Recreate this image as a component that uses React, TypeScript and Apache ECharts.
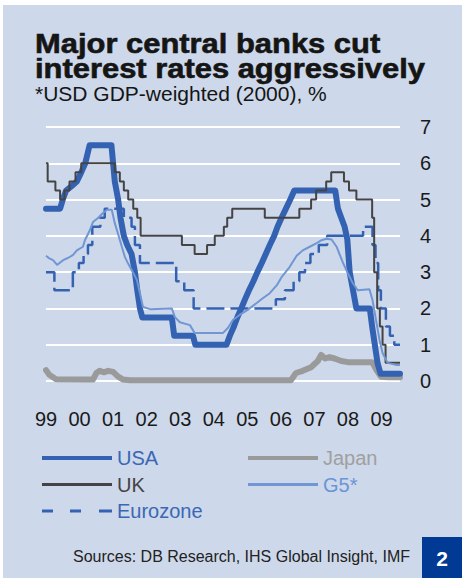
import { useEffect, useRef } from 'react';
import * as echarts from 'echarts';

// [decimal year, % rate]
const usaRate: [number, number][] = [
  [1999.0, 4.75], [1999.42, 4.75], [1999.5, 5.0], [1999.6, 5.25], [1999.8, 5.4], [1999.92, 5.5], [2000.05, 5.75],
  [2000.17, 6.0], [2000.3, 6.5], [2000.95, 6.5], [2001.0, 6.0], [2001.05, 5.5], [2001.15, 5.0], [2001.22, 4.5],
  [2001.32, 4.0], [2001.42, 3.75], [2001.55, 3.5], [2001.65, 3.0], [2001.72, 2.5], [2001.8, 2.0], [2001.87, 1.75],
  [2002.75, 1.75], [2002.82, 1.25], [2003.38, 1.25], [2003.45, 1.0], [2004.38, 1.0], [2004.48, 1.25], [2004.6, 1.5],
  [2004.7, 1.75], [2004.82, 2.0], [2004.93, 2.25], [2005.05, 2.5], [2005.18, 2.75], [2005.3, 3.0], [2005.43, 3.25],
  [2005.55, 3.5], [2005.67, 3.75], [2005.8, 4.0], [2005.9, 4.25], [2006.02, 4.5], [2006.15, 4.75], [2006.28, 5.0],
  [2006.4, 5.25], [2007.62, 5.25], [2007.7, 4.75], [2007.8, 4.5], [2007.9, 4.25], [2007.98, 3.9], [2008.05, 3.0],
  [2008.15, 2.5], [2008.25, 2.0], [2008.65, 2.0], [2008.72, 1.5], [2008.8, 1.0], [2008.88, 0.5], [2008.97, 0.2],
  [2009.55, 0.2],
];

const ukRate: [number, number][] = [
  [1999.0, 6.0], [1999.05, 5.5], [1999.28, 5.25], [1999.42, 5.0], [1999.55, 5.25], [1999.7, 5.5], [1999.88, 5.75],
  [2000.05, 6.0], [2001.05, 5.75], [2001.2, 5.5], [2001.32, 5.25], [2001.45, 5.0], [2001.6, 4.75], [2001.72, 4.5],
  [2001.82, 4.0], [2003.05, 3.75], [2003.43, 3.5], [2003.8, 3.75], [2004.03, 4.0], [2004.3, 4.25], [2004.4, 4.5],
  [2004.55, 4.75], [2005.52, 4.5], [2006.55, 4.75], [2006.9, 5.0], [2007.05, 5.25], [2007.35, 5.5], [2007.5, 5.75],
  [2007.88, 5.5], [2008.03, 5.25], [2008.25, 5.0], [2008.72, 4.5], [2008.78, 3.0], [2008.87, 2.0], [2008.95, 1.5],
  [2009.03, 1.0], [2009.12, 0.5], [2009.55, 0.5],
];

const euroRate: [number, number][] = [
  [1999.0, 3.0], [1999.25, 2.5], [1999.8, 3.0], [1999.98, 3.25], [2000.12, 3.5], [2000.25, 3.75], [2000.38, 4.25],
  [2000.62, 4.5], [2000.75, 4.75], [2001.32, 4.5], [2001.55, 4.25], [2001.65, 3.75], [2001.8, 3.25], [2002.88, 2.75],
  [2003.12, 2.5], [2003.4, 2.0], [2005.85, 2.25], [2006.12, 2.5], [2006.38, 2.75], [2006.55, 3.0], [2006.72, 3.25],
  [2006.88, 3.5], [2007.13, 3.75], [2007.38, 4.0], [2008.45, 4.25], [2008.73, 3.75], [2008.82, 3.25], [2008.9, 2.5],
  [2008.98, 2.0], [2009.13, 1.5], [2009.25, 1.25], [2009.38, 1.0], [2009.55, 1.0],
];

const japanRate: [number, number][] = [
  [1999.0, 0.3], [1999.1, 0.17], [1999.3, 0.05], [2000.4, 0.04], [2000.5, 0.22], [2000.6, 0.28], [2000.72, 0.24],
  [2000.85, 0.28], [2001.0, 0.25], [2001.15, 0.12], [2001.3, 0.04], [2001.5, 0.02], [2006.3, 0.02], [2006.45, 0.22],
  [2006.65, 0.28], [2006.9, 0.38], [2007.1, 0.55], [2007.2, 0.72], [2007.32, 0.62], [2007.45, 0.66], [2007.6, 0.62],
  [2007.8, 0.55], [2008.0, 0.52], [2008.4, 0.52], [2008.72, 0.52], [2008.85, 0.3], [2008.98, 0.12], [2009.2, 0.1],
  [2009.55, 0.1],
];

const g5Rate: [number, number][] = [
  [1999.0, 3.45], [1999.1, 3.38], [1999.21, 3.33], [1999.33, 3.2], [1999.51, 3.33], [1999.65, 3.39], [1999.8, 3.47],
  [1999.92, 3.6], [2000.1, 3.7], [2000.16, 3.88], [2000.31, 4.16], [2000.4, 4.38], [2000.55, 4.49], [2000.7, 4.63],
  [2000.82, 4.72], [2000.96, 4.72], [2001.05, 4.35], [2001.14, 4.08], [2001.26, 3.7], [2001.35, 3.42], [2001.44, 3.25],
  [2001.59, 3.0], [2001.71, 2.78], [2001.8, 2.42], [2001.89, 2.04], [2002.1, 1.98], [2002.75, 2.0], [2002.84, 1.76],
  [2002.99, 1.62], [2003.29, 1.54], [2003.43, 1.32], [2004.27, 1.32], [2004.42, 1.46], [2004.57, 1.68], [2004.77, 1.82],
  [2005.01, 1.96], [2005.28, 2.15], [2005.46, 2.28], [2005.67, 2.42], [2005.88, 2.64], [2006.02, 2.86], [2006.26, 3.14],
  [2006.47, 3.45], [2006.65, 3.6], [2006.86, 3.7], [2007.07, 3.8], [2007.21, 3.88], [2007.36, 3.92], [2007.51, 3.9],
  [2007.66, 3.7], [2007.84, 3.28], [2007.99, 2.98], [2008.14, 2.7], [2008.29, 2.5], [2008.64, 2.53], [2008.73, 2.23],
  [2008.85, 1.6], [2008.94, 1.13], [2009.03, 0.77], [2009.18, 0.5], [2009.45, 0.44], [2009.55, 0.44],
];

const TITLE_LINE_1 = 'Major central banks cut';
const TITLE_LINE_2 = 'interest rates aggressively';
const SUBTITLE = '*USD GDP-weighted (2000), %';
const SOURCE = 'Sources: DB Research, IHS Global Insight, IMF';
const CHART_NO = '2';

const BG = '#cdd8ea';
const USA_BLUE = '#3462b2';
const G5_BLUE = '#7096d4';
const UK_GREY = '#444444';
const JAPAN_GREY = '#9a9a9a';
const TITLE_INK = '#151515';
const FONT = '"Liberation Sans", Arial, sans-serif';

const ICON_THICK = 'path://M0,0h70v4h-70z';
const ICON_THIN = 'path://M0,0h70v3h-70z';
const ICON_DASH = 'path://M0,0h11v3h-11z M28,0h11v3h-11z M57,0h13v3h-13z';

export default function App() {
  const ref = useRef<HTMLDivElement>(null);
  useEffect(() => {
    const chart = echarts.init(ref.current!, null, { renderer: 'svg' });
    const legendBase = {
      top: 448,
      orient: 'vertical',
      padding: 0,
      itemWidth: 70,
      itemHeight: 4,
      itemGap: 6.5,
      selectedMode: false,
      textStyle: { fontSize: 20, fontFamily: FONT },
    };
    const titleText = (text: string, y: number) => ({
      type: 'text',
      x: 35,
      y,
      scaleX: 1.104,
      style: {
        text,
        fontSize: 28,
        fontWeight: 'bold',
        fontFamily: FONT,
        fill: TITLE_INK,
        stroke: TITLE_INK,
        lineWidth: 0.6,
        align: 'left',
        verticalAlign: 'middle',
      },
    });
    chart.setOption({
      animation: false,
      backgroundColor: BG,
      title: {
        text: SUBTITLE,
        left: 35,
        top: 83,
        padding: 0,
        textStyle: { fontFamily: FONT, fontWeight: 'normal', fontSize: 21, color: TITLE_INK },
      },
      grid: { left: 46, right: 62, top: 127, bottom: 197, containLabel: false },
      xAxis: {
        type: 'value',
        min: 1999,
        max: 2009.55,
        interval: 1,
        axisLine: { show: false },
        axisTick: { show: false },
        splitLine: { show: false },
        axisLabel: {
          margin: 28,
          fontSize: 20,
          fontFamily: FONT,
          color: '#1a1a1a',
          showMaxLabel: false,
          formatter: (v: number) => (Number.isInteger(v) ? String(v % 100).padStart(2, '0') : ''),
        },
      },
      yAxis: {
        type: 'value',
        position: 'right',
        min: 0,
        max: 7,
        interval: 1,
        axisLine: { show: false },
        axisTick: { show: false },
        splitLine: { lineStyle: { color: '#ffffff', width: 2 } },
        axisLabel: { margin: 20, fontSize: 20, fontFamily: FONT, color: '#1a1a1a' },
      },
      legend: [
        {
          ...legendBase,
          left: 42,
          data: [
            { name: 'USA', icon: ICON_THICK, textStyle: { color: '#3a67b5' } },
            { name: 'UK', icon: ICON_THIN, textStyle: { color: '#444444' } },
            { name: 'Eurozone', icon: ICON_DASH, textStyle: { color: '#3a67b5' } },
          ],
        },
        {
          ...legendBase,
          left: 248,
          data: [
            { name: 'Japan', icon: ICON_THICK, textStyle: { color: '#a0a0a0' } },
            { name: 'G5*', icon: ICON_THIN, textStyle: { color: '#6a94d6' } },
          ],
        },
      ],
      series: [
        {
          name: 'Japan', type: 'line', data: japanRate, symbol: 'none', z: 2,
          lineStyle: { color: JAPAN_GREY, width: 6, join: 'round', cap: 'round' }, itemStyle: { color: JAPAN_GREY },
        },
        {
          name: 'USA', type: 'line', data: usaRate, symbol: 'none', z: 3,
          lineStyle: { color: USA_BLUE, width: 6, join: 'round', cap: 'round' }, itemStyle: { color: USA_BLUE },
        },
        {
          name: 'Eurozone', type: 'line', data: euroRate, symbol: 'none', step: 'end', z: 4,
          lineStyle: { color: USA_BLUE, width: 2.5, type: [18, 6] }, itemStyle: { color: USA_BLUE },
        },
        {
          name: 'UK', type: 'line', data: ukRate, symbol: 'none', step: 'end', z: 5,
          lineStyle: { color: UK_GREY, width: 2 }, itemStyle: { color: UK_GREY },
        },
        {
          name: 'G5*', type: 'line', data: g5Rate, symbol: 'none', z: 6,
          lineStyle: { color: G5_BLUE, width: 2 }, itemStyle: { color: G5_BLUE },
        },
      ],
      graphic: [
        { type: 'rect', shape: { x: 0, y: 0, width: 462, height: 5 }, style: { fill: '#ffffff' }, silent: true },
        { type: 'rect', shape: { x: 0, y: 0, width: 3, height: 578 }, style: { fill: '#ffffff' }, silent: true },
        titleText(TITLE_LINE_1, 43.5),
        titleText(TITLE_LINE_2, 68.5),
        {
          type: 'text', right: 52, top: 548,
          style: { text: SOURCE, fontSize: 16, fontFamily: FONT, fill: '#222222' },
        },
        { type: 'rect', shape: { x: 422, y: 537, width: 40, height: 41 }, style: { fill: '#003a94' } },
        {
          type: 'text', x: 442, y: 558,
          style: { text: CHART_NO, fontSize: 21, fontWeight: 'bold', fontFamily: FONT, fill: '#ffffff', align: 'center', verticalAlign: 'middle' },
        },
      ],
    });
    return () => chart.dispose();
  }, []);
  return <div ref={ref} style={{ position: 'fixed', left: 0, top: 0, width: 462, height: 578 }} />;
}
